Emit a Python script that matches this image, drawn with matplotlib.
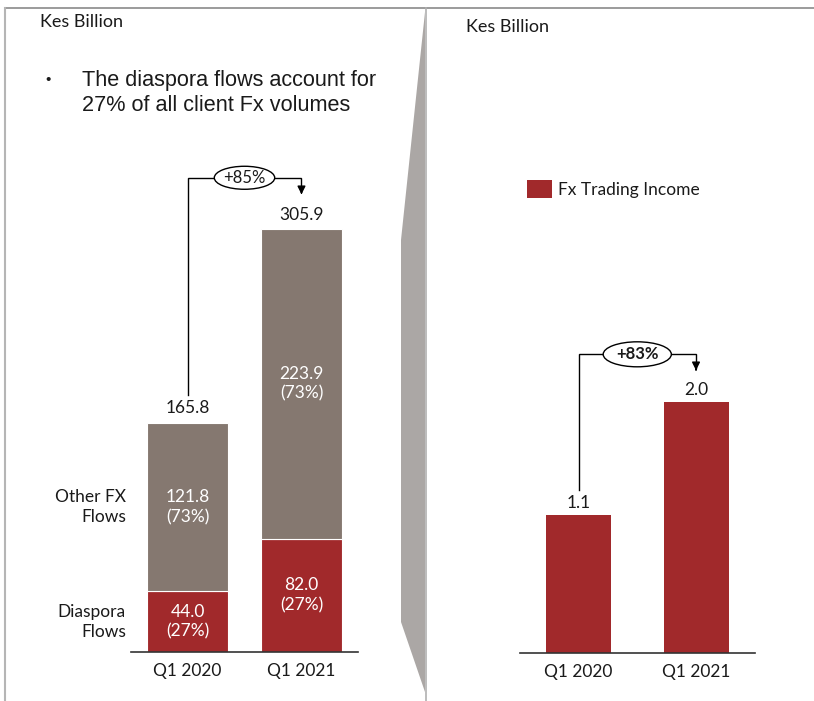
import matplotlib
matplotlib.use("Agg")
import matplotlib.pyplot as plt
from matplotlib.patches import Ellipse, Polygon, Rectangle
from matplotlib.lines import Line2D

# ---- data ----
quarters = ["Q1 2020", "Q1 2021"]
diaspora_flows = [44.0, 82.0]
other_fx_flows = [121.8, 223.9]
total_flows = [165.8, 305.9]
diaspora_share = ["(27%)", "(27%)"]
other_share = ["(73%)", "(73%)"]
flows_growth = "+85%"
fx_trading_income = [1.1, 2.0]
income_growth = "+83%"
unit_label = "Kes Billion"
bullet_text = "The diaspora flows account for\n27% of all client Fx volumes"
legend_label = "Fx Trading Income"
segment_names = ["Other FX\nFlows", "Diaspora\nFlows"]

RED = "#A1292B"
TAUPE = "#857870"
GREY = "#ABA7A5"
TEXT = "#1a1a1a"
FONT = ["Lato", "DejaVu Sans"]
LBL = 12.5

W, H = 814, 701
fig = plt.figure(figsize=(W / 100, H / 100), dpi=100)

# overlay axes in pixel coordinates for frame and divider
deco = fig.add_axes([0, 0, 1, 1])
deco.set_xlim(0, W)
deco.set_ylim(H, 0)
deco.axis("off")
deco.add_line(Line2D([5, W], [8, 8], color="#8a8a8a", lw=1.2))
deco.add_line(Line2D([5, 5], [8, H], color="#b5b5b5", lw=1.5))
deco.add_patch(Polygon([[425, 12], [401, 240], [401, 622], [425, 692]],
                       closed=True, facecolor=GREY, edgecolor="none"))
deco.add_line(Line2D([426, 426], [8, H], color="#b0b0b0", lw=1.2))

deco.text(40, 22, unit_label, fontsize=13, family=FONT, color=TEXT, va="center")
deco.text(466, 27, unit_label, fontsize=13, family=FONT, color=TEXT, va="center")
deco.text(45, 80, "•", fontsize=11, family=["Liberation Sans"], color=TEXT, va="center")
deco.text(82, 93, bullet_text, fontsize=15.6, family=["Liberation Sans"], color=TEXT,
          va="center", linespacing=1.25)


def px_axes(x0, x1, base, top):
    return fig.add_axes([x0 / W, (H - base) / H, (x1 - x0) / W, (base - top) / H])


# ---- left chart: stacked FX flows ----
axL = px_axes(131, 358, 652, 152)
xs = [0, 1]
axL.set_xlim(-0.496, 1.496)
axL.set_ylim(0, 500 / 1.383)
axL.bar(xs, diaspora_flows, width=0.71, color=RED, edgecolor="white", linewidth=0.8)
axL.bar(xs, other_fx_flows, bottom=diaspora_flows, width=0.71, color=TAUPE,
        edgecolor="white", linewidth=0.8)
for x, d, o, t, ds, os_ in zip(xs, diaspora_flows, other_fx_flows, total_flows,
                               diaspora_share, other_share):
    axL.text(x, d / 2, f"{d:.1f}\n{ds}", ha="center", va="center", color="white",
             fontsize=LBL, family=FONT, linespacing=1.3)
    axL.text(x, d + o / 2, f"{o:.1f}\n{os_}", ha="center", va="center", color="white",
             fontsize=LBL, family=FONT, linespacing=1.3)
    axL.text(x, t + 4.5, f"{t:.1f}", ha="center", va="bottom", color=TEXT,
             fontsize=LBL, family=FONT)
axL.text(-0.54, diaspora_flows[0] / 2, segment_names[1], ha="right", va="center",
         fontsize=LBL, family=FONT, color=TEXT, linespacing=1.3)
axL.text(-0.54, diaspora_flows[0] + other_fx_flows[0] / 2, segment_names[0], ha="right",
         va="center", fontsize=LBL, family=FONT, color=TEXT, linespacing=1.3)

# growth connector
y_start = total_flows[0] + 20
y_top = total_flows[1] + 37
y_tip = total_flows[1] + 23
axL.plot([0, 0, 1, 1], [y_start, y_top, y_top, y_tip + 4], color="black", lw=1,
         clip_on=False, solid_joinstyle="miter")
axL.annotate("", xy=(1, y_tip), xytext=(1, y_tip + 6),
             arrowprops=dict(arrowstyle="-|>", color="black", lw=1, mutation_scale=12),
             annotation_clip=False)
axL.add_patch(Ellipse((0.5, y_top), 0.53, 23 / 1.383, facecolor="white",
                      edgecolor="black", lw=1, clip_on=False, zorder=3))
axL.text(0.5, y_top, flows_growth, ha="center", va="center", fontsize=12,
         family=FONT, color=TEXT, zorder=4)

axL.set_xticks(xs)
axL.set_xticklabels(quarters, fontsize=LBL, family=FONT, color=TEXT)
axL.tick_params(axis="x", length=0, pad=8)
axL.set_yticks([])
for s in ["top", "right", "left"]:
    axL.spines[s].set_visible(False)
axL.spines["bottom"].set_color("#333333")
axL.spines["bottom"].set_linewidth(1.2)

# ---- right chart: Fx trading income ----
axR = px_axes(520, 755, 653, 253)
axR.set_xlim(-0.498, 1.502)
axR.set_ylim(0, 400 / 125.5)
axR.bar(xs, fx_trading_income, width=0.553, color=RED)
for x, v in zip(xs, fx_trading_income):
    axR.text(x, v + 0.035, f"{v:.1f}", ha="center", va="bottom", color=TEXT,
             fontsize=LBL, family=FONT)

y_start = fx_trading_income[0] + 0.2
y_top = fx_trading_income[1] + 0.38
y_tip = fx_trading_income[1] + 0.23
axR.plot([0, 0, 1, 1], [y_start, y_top, y_top, y_tip + 0.04], color="black", lw=1,
         clip_on=False, solid_joinstyle="miter")
axR.annotate("", xy=(1, y_tip), xytext=(1, y_tip + 0.05),
             arrowprops=dict(arrowstyle="-|>", color="black", lw=1, mutation_scale=12),
             annotation_clip=False)
axR.add_patch(Ellipse((0.5, y_top), 0.58, 25 / 125.5, facecolor="white",
                      edgecolor="black", lw=1, clip_on=False, zorder=3))
axR.text(0.5, y_top, income_growth, ha="center", va="center", fontsize=12,
         family=FONT, fontweight="bold", color=TEXT, zorder=4)

axR.set_xticks(xs)
axR.set_xticklabels(quarters, fontsize=LBL, family=FONT, color=TEXT)
axR.tick_params(axis="x", length=0, pad=8)
axR.set_yticks([])
for s in ["top", "right", "left"]:
    axR.spines[s].set_visible(False)
axR.spines["bottom"].set_color("#333333")
axR.spines["bottom"].set_linewidth(1.2)

# legend swatch
deco.add_patch(Rectangle((527, 180), 25, 18, facecolor=RED, edgecolor="none"))
deco.text(558, 190, legend_label, fontsize=12.5, family=FONT, color=TEXT, va="center")

fig.savefig("out.png", dpi=100)
